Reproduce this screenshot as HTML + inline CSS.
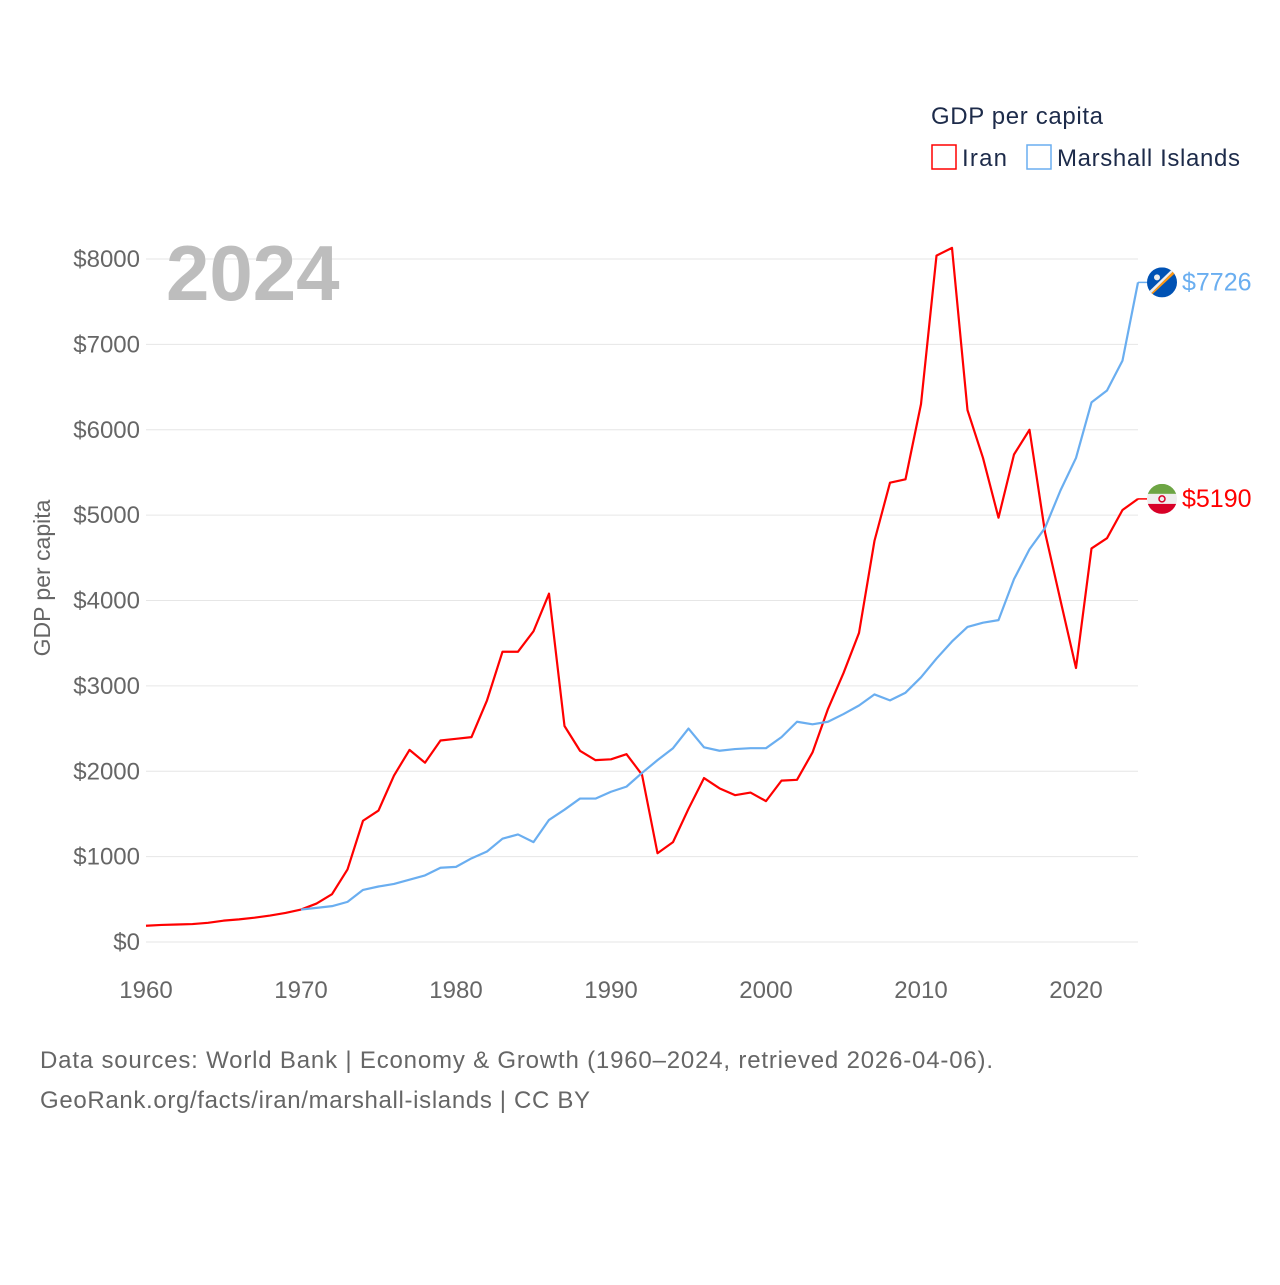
<!DOCTYPE html>
<html><head><meta charset="utf-8"><style>
body{margin:0;background:#fff;font-family:"Liberation Sans",sans-serif;}
svg text{font-family:"Liberation Sans",sans-serif;}
</style></head><body>
<svg width="1280" height="1280" xmlns="http://www.w3.org/2000/svg">
<defs><clipPath id="fi"><circle cx="0" cy="0" r="15"/></clipPath></defs>
<g id="grid"></g>
<g id="yticks"></g>
<g id="xticks"></g>
<text x="166" y="300" font-size="78" font-weight="bold" fill="#bdbdbd">2024</text>
<text transform="translate(50,578) rotate(-90)" text-anchor="middle" font-size="23" fill="#666">GDP per capita</text>
<g id="series"></g>
<text x="931" y="124" font-size="24" fill="#1d2b4a" textLength="172">GDP per capita</text>
<g><rect x="932" y="145" width="24" height="24" fill="none" stroke="#f00" stroke-width="1.5"/><text x="962" y="166" font-size="24" fill="#1d2b4a" textLength="45">Iran</text></g>
<g><rect x="1027" y="145" width="24" height="24" fill="none" stroke="#6aaef0" stroke-width="1.5"/><text x="1057" y="166" font-size="24" fill="#1d2b4a" textLength="183">Marshall Islands</text></g>
<text x="40" y="1068" font-size="24" fill="#666" textLength="953">Data sources: World Bank | Economy &amp; Growth (1960–2024, retrieved 2026-04-06).</text>
<text x="40" y="1108" font-size="24" fill="#666" textLength="550">GeoRank.org/facts/iran/marshall-islands | CC BY</text>
</svg>
<script>
const yTicks=[0,1000,2000,3000,4000,5000,6000,7000,8000];
const xTicks=[1960,1970,1980,1990,2000,2010,2020];
const iranYears=[];for(let y=1960;y<=2024;y++)iranYears.push(y);
const iranValues=[190,200,205,210,225,250,265,285,310,340,380,450,560,850,1420,1540,1950,2250,2100,2360,2380,2400,2830,3400,3400,3640,4080,2530,2240,2130,2140,2200,1960,1040,1170,1560,1920,1800,1720,1750,1650,1890,1900,2220,2730,3150,3620,4700,5380,5420,6300,8040,8130,6230,5670,4970,5710,6000,4800,4000,3210,4610,4730,5060,5190];
const miYears=[];for(let y=1970;y<=2024;y++)miYears.push(y);
const miValues=[380,400,420,470,610,650,680,730,780,870,880,980,1060,1210,1260,1170,1430,1550,1680,1680,1760,1820,1980,2130,2270,2500,2280,2240,2260,2270,2270,2400,2580,2550,2580,2670,2770,2900,2830,2920,3100,3320,3520,3690,3740,3770,4250,4600,4850,5290,5670,6320,6460,6810,7726];
const NS="http://www.w3.org/2000/svg";
const X=y=>146+(y-1960)*15.5;
const Y=v=>942-v*0.085375;
function mk(t,a,p){const e=document.createElementNS(NS,t);for(const k in a)e.setAttribute(k,a[k]);p.appendChild(e);return e;}
const grid=document.getElementById('grid'),yt=document.getElementById('yticks'),xt=document.getElementById('xticks'),ser=document.getElementById('series');
yTicks.forEach(v=>{
 const l=mk('line',{x1:146,x2:1138,y1:Y(v),y2:Y(v),stroke:'#e6e6e6','stroke-width':1},grid);
 
 
 const t=mk('text',{x:140,y:Y(v)+8,'text-anchor':'end','font-size':24,fill:'#666'},yt);
 t.textContent='$'+v;
 
 
});
xTicks.forEach(v=>{
 const t=mk('text',{x:X(v),y:998,'text-anchor':'middle','font-size':24,fill:'#666'},xt);
 t.textContent=v;
 
 
});
function series(years,vals,color,name,flag){
 const d=years.map((y,i)=>(i?'L':'M')+X(y)+','+Y(vals[i])).join(' ');
 const p=mk('path',{d:d,fill:'none',stroke:color,'stroke-width':2.2,'stroke-linejoin':'round'},ser);
 
 
 const lx=X(years[years.length-1]),ly=Y(vals[vals.length-1]);
 mk('line',{x1:lx,y1:ly,x2:lx+9,y2:ly,stroke:color,'stroke-width':1.5},ser);
 const g=mk('g',{transform:'translate('+(lx+24)+','+ly+')','clip-path':'url(#fi)'},ser);
 
 
 if(flag==='ir'){
  mk('rect',{x:-15,y:-15,width:30,height:10,fill:'#6da544'},g);
  mk('rect',{x:-15,y:-5,width:30,height:10,fill:'#eee'},g);
  mk('rect',{x:-15,y:5,width:30,height:10,fill:'#d80027'},g);
  mk('circle',{cx:0,cy:0,r:3,fill:'none',stroke:'#d80027','stroke-width':1.5},g);
 }else{
  mk('rect',{x:-15,y:-15,width:30,height:30,fill:'#0052b4'},g);
  mk('polygon',{points:'-15,15 15,-15 15,-11 -13,15',fill:'#ff9811'},g);
  mk('polygon',{points:'-15,15 15,-15 12,-15 -15,11',fill:'#eee'},g);
  mk('circle',{cx:-5,cy:-5,r:3,fill:'#eee'},g);
 }
 const t=mk('text',{x:lx+44,y:ly+8,'font-size':25,fill:color},ser);
 t.textContent='$'+vals[vals.length-1];
 
 
}
series(iranYears,iranValues,'#ff0000','iran','ir');
series(miYears,miValues,'#6aaef0','marshall-islands','mh');
</script>
</body></html>
